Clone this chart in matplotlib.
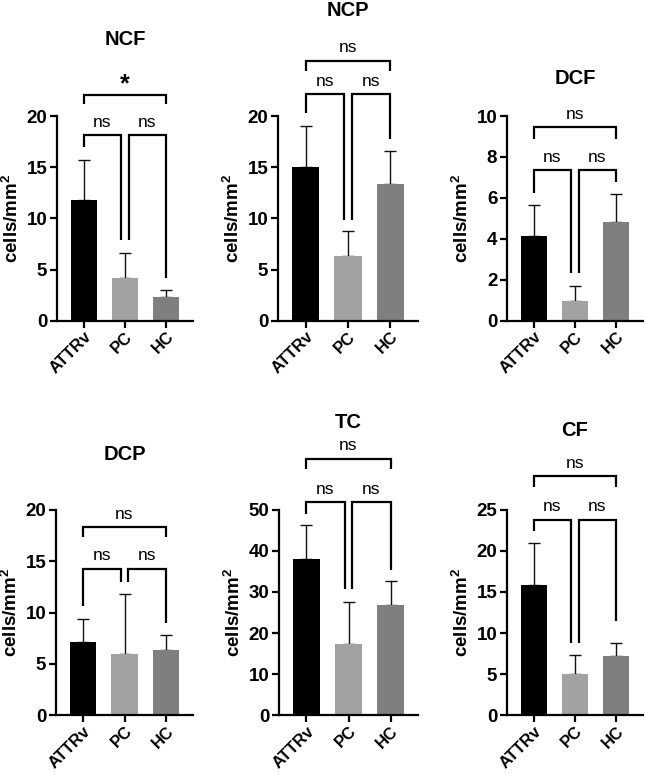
import matplotlib
matplotlib.use('Agg')
import matplotlib.pyplot as plt
import numpy as np

plt.rcParams['font.family'] = ['Liberation Sans', 'DejaVu Sans']
plt.rcParams['mathtext.fontset'] = 'custom'
plt.rcParams['mathtext.rm'] = 'Liberation Sans'
plt.rcParams['mathtext.bf'] = 'Liberation Sans:bold'

groups = ['ATTRv', 'PC', 'HC']
bar_colors = ['#000000', '#a2a2a2', '#7f7f7f']

titles = ['NCF', 'NCP', 'DCF', 'DCP', 'TC', 'CF']

ncf_mean = [11.75, 4.17, 2.27]
ncf_sd = [3.95, 2.43, 0.69]
ncp_mean = [15.05, 6.3, 13.36]
ncp_sd = [3.95, 2.47, 3.19]
dcf_mean = [4.14, 0.98, 4.84]
dcf_sd = [1.51, 0.72, 1.33]
dcp_mean = [7.1, 6.0, 6.32]
dcp_sd = [2.3, 5.77, 1.46]
tc_mean = [38.1, 17.4, 26.9]
tc_sd = [8.1, 10.2, 5.7]
cf_mean = [15.9, 5.06, 7.18]
cf_sd = [5.0, 2.31, 1.65]

means = [ncf_mean, ncp_mean, dcf_mean, dcp_mean, tc_mean, cf_mean]
sds = [ncf_sd, ncp_sd, dcf_sd, dcp_sd, tc_sd, cf_sd]

y_max = [20, 20, 10, 20, 50, 25]
y_step = [5, 5, 2, 5, 10, 5]

# significance: ATTRv-PC, PC-HC, ATTRv-HC
sig = [['ns', 'ns', '*'], ['ns', 'ns', 'ns'], ['ns', 'ns', 'ns'],
       ['ns', 'ns', 'ns'], ['ns', 'ns', 'ns'], ['ns', 'ns', 'ns']]

# bracket layout (data units): leg bottoms for ATTRv/PC/HC, inner bar, outer bar, outer leg bottom
bracket_legs = [[17.0, 7.85, 4.15], [20.3, 9.85, 17.8], [6.26, 2.33, 6.8],
                [10.6, 13.0, 9.0], [49.0, 30.6, 35.4], [22.4, 8.8, 11.5]]
bracket_inner = [18.15, 22.15, 7.37, 14.26, 51.9, 23.8]
bracket_outer = [22.1, 25.4, 9.45, 18.3, 62.4, 29.1]
bracket_outer_leg = [21.2, 24.4, 8.9, 17.3, 59.8, 27.8]

# axes placement in pixels: left, right, baseline(y of 0), top(y of max)
W, H = 645, 774
px = [(57, 193, 320.7, 116), (278, 418, 320.7, 116), (507, 643, 320.7, 116),
      (56, 193, 715.3, 509.7), (279, 418, 715.3, 509.7), (507, 643, 715.3, 509.7)]
title_y = [1.376, 1.517, 1.185, 1.268, 1.424, 1.385]

fig = plt.figure(figsize=(W / 100, H / 100), dpi=100)
lw = 1.6
x = np.arange(len(groups))

for i in range(6):
    l, r, b, t = px[i]
    ax = fig.add_axes([l / W, (H - b) / H, (r - l) / W, (b - t) / H])
    ax.bar(x, means[i], width=0.64, color=bar_colors, zorder=2)
    ax.errorbar(x, means[i], yerr=[np.zeros(3), sds[i]], fmt='none', ecolor='#111111',
                elinewidth=1.0, capsize=4.5, capthick=1.0, zorder=1)
    ax.set_xlim(-0.65, 2.65)
    ax.set_ylim(0, y_max[i])
    ax.set_yticks(np.arange(0, y_max[i] + 0.01, y_step[i]))
    ax.set_xticks(x)
    ax.set_xticklabels(groups, rotation=45, ha='right', rotation_mode='anchor',
                       fontsize=12, fontweight='bold')
    for lab in ax.get_yticklabels():
        lab.set_fontsize(13.5)
        lab.set_fontweight('bold')
    ax.tick_params(direction='out', length=5, width=lw, pad=2)
    ax.tick_params(axis='x', pad=1)
    for s in ['top', 'right']:
        ax.spines[s].set_visible(False)
    for s in ['left', 'bottom']:
        ax.spines[s].set_linewidth(lw)
    ax.set_ylabel(r'$\mathbf{cells/mm^2}$', fontsize=13.5, labelpad=3)
    ax.text(0.5, title_y[i], titles[i], transform=ax.transAxes, ha='center',
            va='center', fontsize=14.5, fontweight='bold')

    legs = bracket_legs[i]
    yi = bracket_inner[i]
    d = 0.09
    kw = dict(color='black', lw=lw, clip_on=False, solid_capstyle='butt',
              solid_joinstyle='miter')
    ax.plot([0, 0, 1 - d, 1 - d], [legs[0], yi, yi, legs[1]], **kw)
    ax.plot([1 + d, 1 + d, 2, 2], [legs[1], yi, yi, legs[2]], **kw)
    yo = bracket_outer[i]
    yl = bracket_outer_leg[i]
    ax.plot([0, 0, 2, 2], [yl, yo, yo, yl], **kw)

    for xc, yc, s in [(0.5 - d / 2, yi, sig[i][0]), (1.5 + d / 2, yi, sig[i][1]),
                      (1.0, yo, sig[i][2])]:
        if s == '*':
            ax.annotate(s, (xc, yc), xytext=(0, 2), textcoords='offset points',
                        ha='center', va='baseline', fontsize=18, fontweight='bold',
                        annotation_clip=False)
        else:
            ax.annotate(s, (xc, yc), xytext=(0, 6), textcoords='offset points',
                        ha='center', va='baseline', fontsize=12.5,
                        annotation_clip=False)

fig.savefig('out.png', dpi=100)
